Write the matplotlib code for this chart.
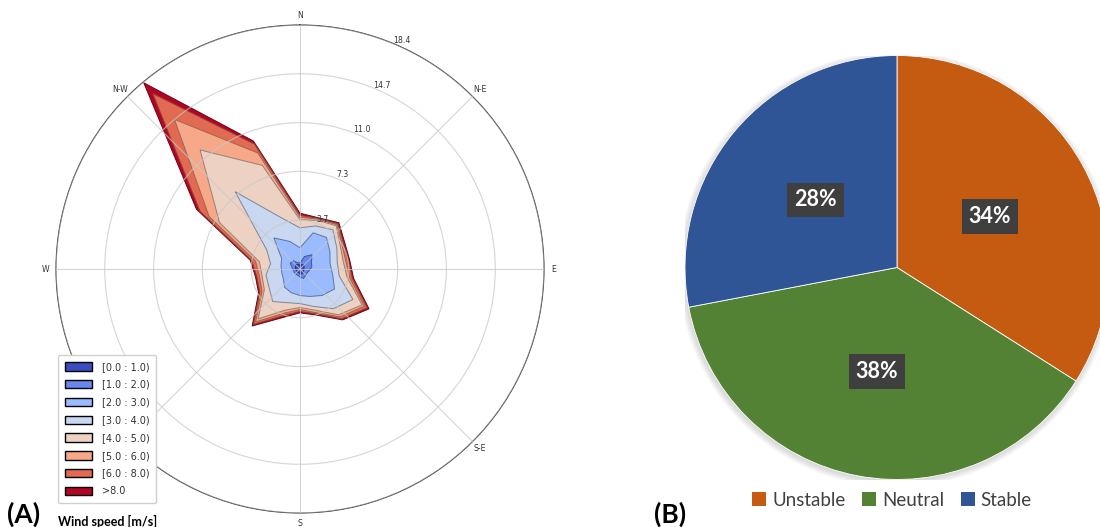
import numpy as np
import matplotlib
matplotlib.use("Agg")
import matplotlib.pyplot as plt
from matplotlib.patches import Patch, Circle

# ---------------- wind rose data (frequency %, 18 sectors of 20 deg) ----------------
directions_deg = [0, 20, 40, 60, 80, 100, 120, 140, 160, 180,
                  200, 220, 240, 260, 280, 300, 320, 340]
speed_bins = ["[0.0 : 1.0)", "[1.0 : 2.0)", "[2.0 : 3.0)", "[3.0 : 4.0)",
              "[4.0 : 5.0)", "[5.0 : 6.0)", "[6.0 : 8.0)", ">8.0"]

freq_0_1 = [0.30, 0.35, 0.40, 0.35, 0.30, 0.30, 0.30, 0.35, 0.40, 0.35, 0.30, 0.30, 0.30, 0.30, 0.35, 0.40, 0.45, 0.35]
freq_1_2 = [0.15, 0.65, 1.00, 0.65, 0.60, 0.40, 0.30, 0.30, 0.35, 0.25, 0.20, 0.20, 0.20, 0.20, 0.25, 0.45, 0.35, 0.15]
freq_2_3 = [1.15, 1.90, 1.70, 1.60, 1.40, 1.80, 2.40, 1.95, 1.45, 1.40, 1.40, 1.30, 0.95, 0.90, 0.85, 0.75, 2.26, 1.70]
freq_3_4 = [1.50, 0.55, 0.75, 0.60, 0.55, 0.50, 1.60, 1.30, 0.80, 0.60, 0.80, 1.40, 1.25, 1.20, 0.80, 1.30, 4.54, 1.90]
freq_4_5 = [0.60, 0.45, 0.40, 0.30, 0.45, 0.60, 0.80, 0.60, 0.30, 0.30, 0.60, 1.70, 0.40, 0.30, 0.85, 4.10, 4.10, 4.20]
freq_5_6 = [0.20, 0.10, 0.10, 0.15, 0.20, 0.20, 0.20, 0.20, 0.20, 0.15, 0.25, 0.30, 0.20, 0.20, 0.30, 0.90, 3.00, 1.00]
freq_6_8 = [0.15, 0.05, 0.10, 0.15, 0.20, 0.20, 0.25, 0.20, 0.10, 0.15, 0.20, 0.25, 0.20, 0.20, 0.30, 0.80, 2.55, 0.70]
freq_8_up = [0.15, 0.05, 0.10, 0.10, 0.10, 0.10, 0.15, 0.10, 0.10, 0.10, 0.15, 0.15, 0.10, 0.10, 0.10, 0.30, 1.05, 0.25]

radial_ticks = [3.67, 7.35, 11.02, 14.70, 18.37]
radial_labels = ["3.7", "7.3", "11.0", "14.7", "18.4"]
grid_angles = [0, 45, 90, 135, 180, 225, 270, 315]
compass_angles = [0, 45, 90, 135, 180, 270, 315]
compass_labels = ["N", "N-E", "E", "S-E", "S", "W", "N-W"]

# ---------------- stability class data ----------------
stability_classes = ["Unstable", "Neutral", "Stable"]
stability_share = [34, 38, 28]
stability_colors = ["#c55a11", "#548235", "#2f5597"]

W, H = 1100, 527
fig = plt.figure(figsize=(W / 100, H / 100), dpi=100)
fig.patch.set_facecolor("white")

# ---------------- (A) wind rose ----------------
cx, cy, rad = 300, 269, 244
ax = fig.add_axes([(cx - rad) / W, (H - cy - rad) / H, 2 * rad / W, 2 * rad / H],
                  projection="polar")
ax.set_theta_zero_location("N")
ax.set_theta_direction(-1)
rmax = radial_ticks[-1]

freqs = np.array([freq_0_1, freq_1_2, freq_2_3, freq_3_4,
                  freq_4_5, freq_5_6, freq_6_8, freq_8_up])
cum = np.cumsum(freqs, axis=0)
colors = plt.get_cmap("coolwarm")(np.linspace(0, 1, len(speed_bins)))
theta = np.deg2rad(directions_deg + [360])

for i in reversed(range(len(speed_bins))):
    r = np.append(cum[i], cum[i][0])
    edge = tuple(np.array(colors[i][:3]) * 0.62)
    ax.fill(theta, r, facecolor=colors[i], edgecolor=edge, lw=0.7,
            zorder=1 + (len(speed_bins) - i) * 0.01)

ax.set_ylim(0, rmax)
ax.set_yticks(radial_ticks)
ax.set_yticklabels([])
ax.set_xticks(np.deg2rad(grid_angles))
ax.set_xticklabels([])
ax.set_axisbelow(False)
ax.grid(True, color="#c8c8c8", lw=0.8, alpha=0.75)
ax.spines["polar"].set_color("#3a3a3a")
ax.spines["polar"].set_linewidth(0.8)

for v, lab in zip(radial_ticks, radial_labels):
    ax.text(np.deg2rad(24), v + 0.45, lab, fontsize=5.6, color="#333333",
            ha="center", va="center", zorder=5)
for a, lab in zip(compass_angles, compass_labels):
    ax.text(np.deg2rad(a), rmax * 254 / 244, lab, fontsize=5.6, color="#333333",
            ha="center", va="center", clip_on=False, zorder=5)

handles = [Patch(facecolor=c, edgecolor="black", lw=1.0) for c in colors]
leg = fig.legend(handles, speed_bins, loc="upper left",
                 bbox_to_anchor=(58 / W, 1 - 355 / H), borderaxespad=0,
                 fontsize=7, handlelength=2.8, handleheight=0.95,
                 labelspacing=0.8, handletextpad=1.0, borderpad=0.7,
                 frameon=True, fancybox=True, framealpha=1, edgecolor="#d0d0d0")
leg.set_zorder(10)
for t in leg.get_texts():
    t.set_color("#333333")

fig.text(58 / W, 1 - 521 / H, "Wind speed [m/s]", fontsize=9, fontweight="bold",
         family="Lato", ha="left", va="center")
fig.text(7 / W, 1 - 514 / H, "(A)", fontsize=19, fontweight="bold",
         family="Lato", ha="left", va="center")

# ---------------- (B) stability pie ----------------
pcx, pcy, prad = 897, 267.5, 212
pax = fig.add_axes([(pcx - prad) / W, (H - pcy - prad) / H, 2 * prad / W, 2 * prad / H])
pax.set_xlim(-1, 1)
pax.set_ylim(-1, 1)
pax.set_aspect("equal")
pax.axis("off")

for k in range(8):
    pax.add_patch(Circle((-0.004, -0.008), 1.0 + 0.004 * k, color="#9a9a9a",
                         alpha=0.05, lw=0, zorder=0))

wedges, texts, autotexts = pax.pie(
    stability_share, colors=stability_colors, startangle=90, counterclock=False,
    radius=1.0, autopct="%d%%", pctdistance=0.5,
    wedgeprops=dict(edgecolor="white", linewidth=0.6),
    textprops=dict(color="white", fontsize=15.5, fontweight="bold", family="Lato"))
for w in wedges:
    w.set_zorder(2)
for t in autotexts:
    t.set_bbox(dict(boxstyle="square,pad=0.32", facecolor="#3f3f3f", edgecolor="none"))
    t.set_zorder(4)
pax.set_xlim(-1, 1)
pax.set_ylim(-1, 1)

pie_handles = [Patch(facecolor=c, edgecolor="none") for c in stability_colors]
fig.legend(pie_handles, stability_classes, loc="center",
           bbox_to_anchor=(892 / W, 1 - 500 / H), ncol=3, frameon=False,
           prop=dict(family="Lato", size=13.5), handlelength=0.75, handleheight=0.75,
           handletextpad=0.3, columnspacing=0.9)
for t in fig.legends[-1].get_texts():
    t.set_color("#404040")

fig.text(654 / W, 1 - 514 / H, "(B)", fontsize=19, fontweight="bold",
         family="Lato", ha="left", va="center")

fig.savefig("out.png", dpi=100, facecolor="white")
